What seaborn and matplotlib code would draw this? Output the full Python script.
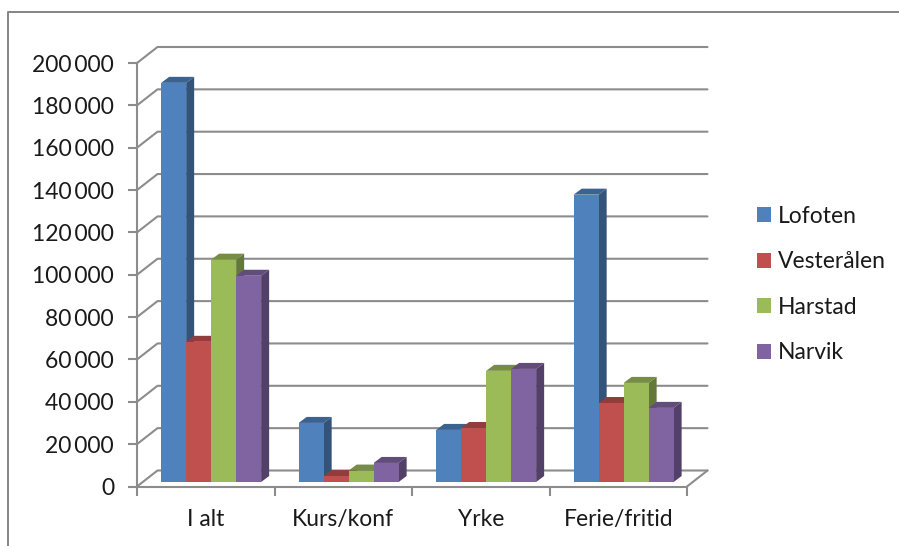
import matplotlib
matplotlib.use('Agg')
import matplotlib.pyplot as plt
from matplotlib.colors import to_rgb
from matplotlib.lines import Line2D
from matplotlib.patches import Polygon
import pandas as pd
import seaborn as sns

categories = ['I alt', 'Kurs/konf', 'Yrke', 'Ferie/fritid']
lofoten = [188500, 27900, 24600, 135700]
vesteralen = [66200, 2800, 25500, 37300]
harstad = [105000, 5400, 52500, 46800]
narvik = [97400, 9000, 53400, 35000]
regions = ['Lofoten', 'Vesterålen', 'Harstad', 'Narvik']
colors = ['#4F81BD', '#C0504D', '#9BBB59', '#8064A2']
y_ticks = list(range(0, 200001, 20000))

W, H = 899, 546
grey = '#8C8C8C'
font_size = 16.5

sns.set_theme(style='white')
plt.rcParams['font.family'] = ['Lato', 'DejaVu Sans']

rows = []
for region, vals in zip(regions, [lofoten, vesteralen, harstad, narvik]):
    for cat, v in zip(categories, vals):
        rows.append({'category': cat, 'region': region, 'value': v})
df = pd.DataFrame(rows)

fig = plt.figure(figsize=(W / 100, H / 100), dpi=100)
# front plane of the fake 3D box, in pixels of the reference
left, right, top, bottom = 137, 687, 63, 486.5
ax = fig.add_axes([left / W, 1 - bottom / H, (right - left) / W, (bottom - top) / H])

sns.barplot(data=df, x='category', y='value', hue='region', order=categories,
            hue_order=regions, palette=colors, saturation=1, width=0.727,
            linewidth=0, ax=ax)

ax.set_xlim(-0.5, 3.5)
ax.set_ylim(0, 200000)
ax.set_xlabel('')
ax.set_ylabel('')

# pixel sizes as data units
px_x = 4 / (right - left)
px_y = 200000 / (bottom - top)

# back wall and floor
depth_x, depth_y = 20.5 * px_x, 16 * px_y
for v in y_ticks:
    ax.plot([-0.5, -0.5 + depth_x, 3.5 + depth_x], [v, v + depth_y, v + depth_y],
            color=grey, lw=1.5, zorder=1, clip_on=False, solid_joinstyle='round')
ax.plot([3.5, 3.5 + depth_x], [0, depth_y], color=grey, lw=1.5, zorder=1, clip_on=False)

# give the flat bars a top and a side
bar_dx, bar_dy = 8 * px_x, 6 * px_y
shift_x, base_y = 5.4 * px_x, 4.5 * px_y
for i, (container, color) in enumerate(zip(ax.containers, colors)):
    r, g, b = to_rgb(color)
    top_color = (r * 0.76, g * 0.76, b * 0.76)
    side_color = (r * 0.64, g * 0.64, b * 0.64)
    for bar in container:
        bar.set_x(bar.get_x() + shift_x)
        bar.set_y(base_y)
        bar.set_zorder(5 + i * 2)
        bar.set_clip_on(False)
        x0, x1 = bar.get_x(), bar.get_x() + bar.get_width()
        y0, y1 = bar.get_y(), bar.get_y() + bar.get_height()
        ax.add_patch(Polygon([(x0, y1), (x1, y1), (x1 + bar_dx, y1 + bar_dy), (x0 + bar_dx, y1 + bar_dy)],
                             closed=True, fc=top_color, ec='none', zorder=4 + i * 2, clip_on=False))
        ax.add_patch(Polygon([(x1, y0), (x1 + bar_dx, y0 + bar_dy), (x1 + bar_dx, y1 + bar_dy), (x1, y1)],
                             closed=True, fc=side_color, ec='none', zorder=4 + i * 2, clip_on=False))

sns.despine(ax=ax, top=True, right=True)
for side in ['left', 'bottom']:
    ax.spines[side].set_color(grey)
    ax.spines[side].set_linewidth(1.5)
    ax.spines[side].set_zorder(20)

ax.set_yticks(y_ticks)
ax.set_yticklabels([f'{v:,}'.replace(',', '\u2009') for v in y_ticks])
ax.set_xticks([-0.5, 0.5, 1.5, 2.5, 3.5])
ax.set_xticklabels([])
ax.set_xticks([0, 1, 2, 3], minor=True)
ax.set_xticklabels(categories, minor=True)
ax.tick_params(axis='y', which='major', left=True, length=6.5, width=1.5, color=grey,
               labelsize=font_size, labelcolor='#1a1a1a', pad=10)
ax.tick_params(axis='x', which='major', bottom=True, length=6.5, width=1.5, color=grey)
ax.tick_params(axis='x', which='minor', bottom=False, length=0, labelsize=font_size,
               labelcolor='#1a1a1a', pad=16)

handles, labels = ax.get_legend_handles_labels()
ax.legend(handles, labels, loc='center left', bbox_to_anchor=(757 / W, 1 - 284.5 / H),
          bbox_transform=fig.transFigure, frameon=False, fontsize=font_size, labelcolor='#1a1a1a',
          handlelength=0.61, handleheight=0.61, handletextpad=0.3, labelspacing=1.07,
          borderpad=0, borderaxespad=0)

# outer chart frame, cut off by the screenshot at right and bottom
fig.add_artist(Line2D([8 / W, 8 / W, 1], [0, 1 - 12 / H, 1 - 12 / H], transform=fig.transFigure,
                      color='#848484', lw=1.4))

fig.savefig('out.png', dpi=100)
